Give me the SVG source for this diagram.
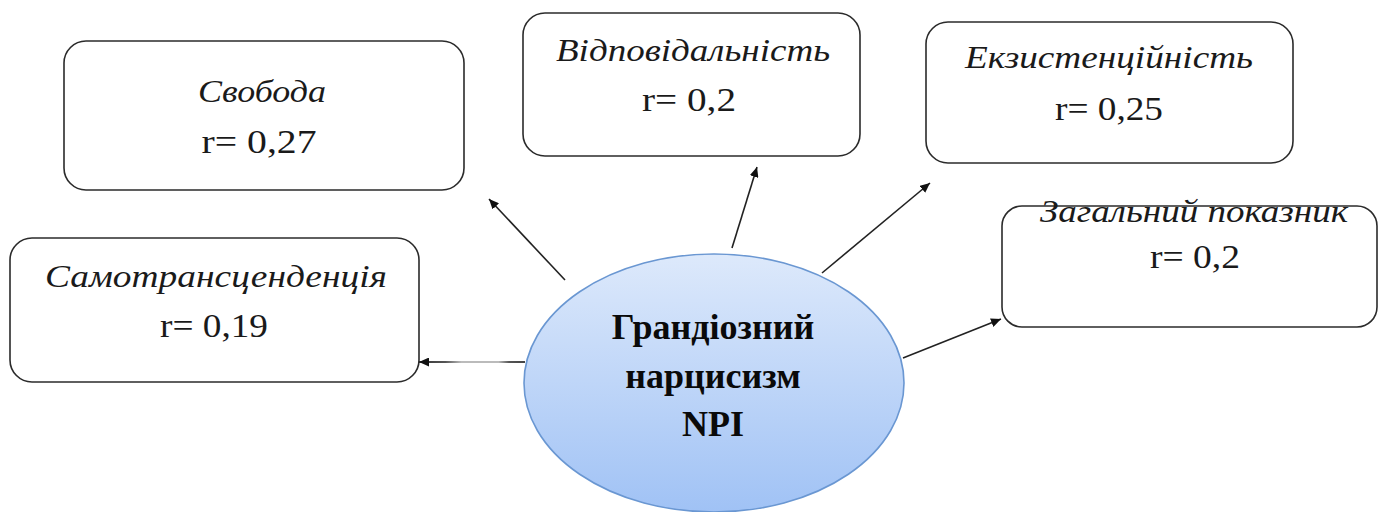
<svg xmlns="http://www.w3.org/2000/svg" width="1379" height="512" viewBox="0 0 1379 512">
  <style>
    .box { fill: #ffffff; stroke: #2b2b2b; stroke-width: 1.6; }
    .lbl { font-family: "Liberation Serif", "Times New Roman", "DejaVu Serif", serif; font-style: italic; font-size: 32px; fill: #1a1a1a; text-anchor: middle; }
    .val { font-family: "Liberation Serif", "Times New Roman", "DejaVu Serif", serif; font-size: 34px; fill: #1a1a1a; text-anchor: middle; }
    .ctr { font-family: "Liberation Serif", "Times New Roman", "DejaVu Serif", serif; font-weight: bold; font-size: 36px; fill: #0a0a0a; text-anchor: middle; }
    .conn { stroke: #222222; stroke-width: 1.6; fill: none; marker-end: url(#arrow); }
  </style>
  <defs>
    <marker id="arrow" markerUnits="userSpaceOnUse" markerWidth="11" markerHeight="9" refX="10" refY="4.5" orient="auto">
      <path d="M0,0 L10,4.5 L0,9 Z" fill="#111111"/>
    </marker>
    <linearGradient id="ellFill" x1="0" y1="0" x2="0" y2="1">
      <stop offset="0" stop-color="#dde9fb"/>
      <stop offset="1" stop-color="#a0c2f5"/>
    </linearGradient>
    <linearGradient id="leftLine" gradientUnits="userSpaceOnUse" x1="419" y1="0" x2="525" y2="0">
      <stop offset="0" stop-color="#333333"/>
      <stop offset="0.25" stop-color="#555555"/>
      <stop offset="0.4" stop-color="#bbbbbb"/>
      <stop offset="0.75" stop-color="#bbbbbb"/>
      <stop offset="0.85" stop-color="#555555"/>
      <stop offset="1" stop-color="#444444"/>
    </linearGradient>
    <clipPath id="clipTop">
      <rect x="990" y="196" width="389" height="60"/>
    </clipPath>
  </defs>

  <g id="connectors">
    <line class="conn" x1="565" y1="280" x2="489" y2="199"/>
    <line class="conn" x1="732" y1="248" x2="757" y2="167"/>
    <line class="conn" x1="822" y1="273" x2="930" y2="183"/>
    <line class="conn" x1="903" y1="358" x2="1001" y2="319"/>
    <line x1="525" y1="362" x2="419" y2="362" stroke="url(#leftLine)" stroke-width="1.8" marker-end="url(#arrow)"/>
  </g>

  <g id="node-center">
    <ellipse cx="714" cy="383" rx="190" ry="129" fill="url(#ellFill)" stroke="#6a97d2" stroke-width="1.6"/>
    <text class="ctr" x="713" y="339">Грандіозний</text>
    <text class="ctr" x="713" y="388">нарцисизм</text>
    <text class="ctr" x="713" y="436">NPI</text>
  </g>

  <g id="node-svoboda">
    <rect class="box" x="64" y="41" width="400" height="149" rx="22"/>
    <text class="lbl" x="262" y="102" textLength="128" lengthAdjust="spacingAndGlyphs">Свобода</text>
    <text class="val" x="259" y="153" textLength="115" lengthAdjust="spacingAndGlyphs">r= 0,27</text>
  </g>

  <g id="node-vidpovidalnist">
    <rect class="box" x="523" y="13" width="337" height="143" rx="22"/>
    <text class="lbl" x="693" y="61" textLength="274" lengthAdjust="spacingAndGlyphs">Відповідальність</text>
    <text class="val" x="689" y="111" textLength="94" lengthAdjust="spacingAndGlyphs">r= 0,2</text>
  </g>

  <g id="node-ekzystentsiinist">
    <rect class="box" x="926" y="22" width="367" height="141" rx="22"/>
    <text class="lbl" x="1109" y="68" textLength="288" lengthAdjust="spacingAndGlyphs">Екзистенційність</text>
    <text class="val" x="1109" y="120" textLength="108" lengthAdjust="spacingAndGlyphs">r= 0,25</text>
  </g>

  <g id="node-zahalnyi">
    <rect class="box" x="1002" y="206" width="375" height="121" rx="20"/>
    <text class="lbl" x="1194" y="222" textLength="308" lengthAdjust="spacingAndGlyphs" clip-path="url(#clipTop)">Загальний показник</text>
    <text class="val" x="1195" y="268" textLength="90" lengthAdjust="spacingAndGlyphs">r= 0,2</text>
  </g>

  <g id="node-samotranstsendentsiia">
    <rect class="box" x="10" y="238" width="409" height="144" rx="22"/>
    <text class="lbl" x="216" y="287" textLength="342" lengthAdjust="spacingAndGlyphs">Самотрансценденція</text>
    <text class="val" x="214" y="337" textLength="108" lengthAdjust="spacingAndGlyphs">r= 0,19</text>
  </g>
</svg>
